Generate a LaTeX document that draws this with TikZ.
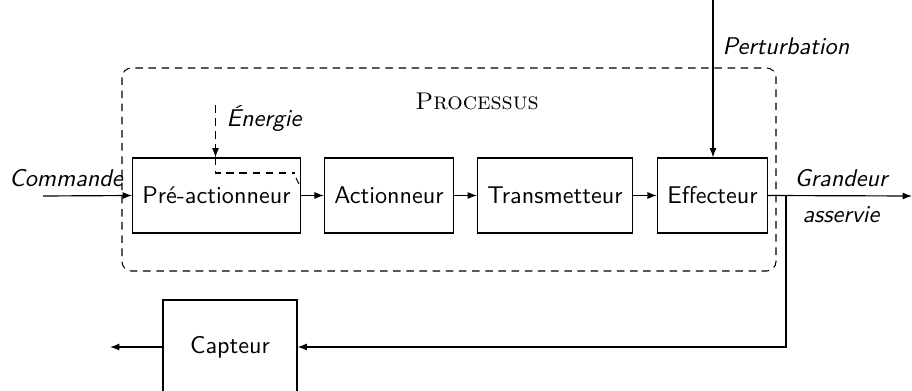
\documentclass[tikz,border=0pt]{standalone}
\usetikzlibrary{arrows.meta}
\begin{document}
\begin{tikzpicture}[x=0.4255pt,y=-0.4255pt,
  every node/.style={font=\fontsize{10.3}{12}\selectfont\sffamily},
  blk/.style={draw,line width=0.5pt,minimum height=31.9pt,inner xsep=4.2pt,inner ysep=0pt},
  lbl/.style={font=\fontsize{10.3}{12}\selectfont\sffamily\itshape},
  con/.style={line width=0.5pt,-{Latex[length=4pt,width=3pt]}},
  dsh/.style={line width=0.45pt,dash pattern=on 3.2pt off 2.4pt}]
\useasboundingbox (0,0) rectangle (912,391);
% processus frame
\draw[dsh,rounded corners=4pt] (122,68) rectangle (776,271);
\node[font=\fontsize{10.3}{12}\selectfont\rmfamily\scshape] (proc) at (477,101) {Processus};
% blocks
\node[blk] (pre) at (216.5,195.5) {Pré-actionneur};
\node[blk] (act) at (389,195.5) {Actionneur};
\node[blk] (tra) at (555,195.5) {Transmetteur};
\node[blk] (eff) at (712.5,195.5) {Effecteur};
\node[blk,minimum width=57pt,minimum height=40pt] (cap) at (230,347) {Capteur};
% labels
\node[lbl] (lcmd) at (66,178) {Commande};
\node[lbl] (lene) at (264,118) {Énergie};
\node[lbl] (lper) at (786,46) {Perturbation};
\node[lbl] (lgr1) at (841,178) {Grandeur};
\node[lbl] (lgr2) at (841,215) {asservie};
% coordinates
\coordinate (cmd) at (43,196);
\coordinate (ene) at (215.5,105);
\coordinate (pert) at (713,0);
\coordinate (out) at (912,196);
\coordinate (fb) at (786,196);
\coordinate (capout) at (110,347);
% connectors
\draw[con] (cmd) -- (pre.west);
\draw[con] (pre.east) -- (act.west);
\draw[con] (act.east) -- (tra.west);
\draw[con] (tra.east) -- (eff.west);
\draw[con] (eff.east) -- (out);
\draw[con] (pert) -- (pert |- eff.north);
\draw[con] (fb) |- (cap.east);
\draw[con] (cap.west) -- (capout);
% energy
\draw[dsh,-{Latex[length=4pt,width=3pt]}] (ene) -- (ene |- pre.north);
\draw[dsh] (ene |- pre.north) -- (215.5,173) -- (295,173);
\draw[line width=0.4pt] (296,178) -- (299,184);
\end{tikzpicture}
\end{document}
